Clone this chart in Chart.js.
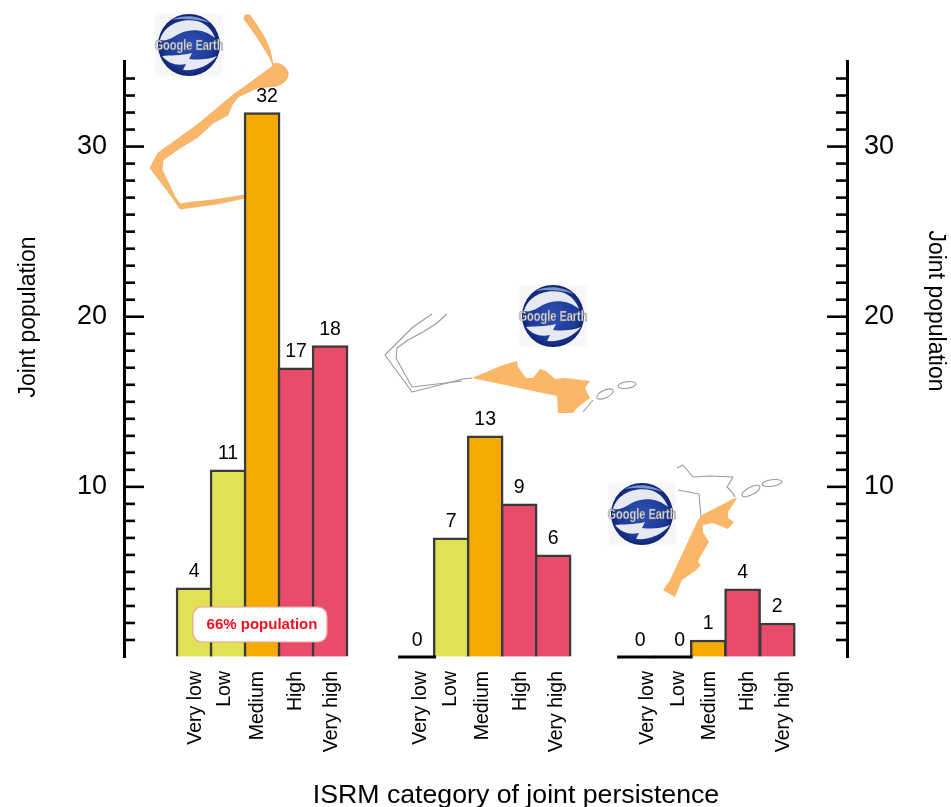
<!DOCTYPE html>
<html><head><meta charset="utf-8">
<script src="https://cdn.jsdelivr.net/npm/chart.js@4"></script>
<style>
html,body{margin:0;padding:0;background:#fff;overflow:hidden}
#wrap{position:relative;width:951px;height:807px}
canvas{position:absolute;left:0;top:0}
svg{position:absolute;left:0;top:0;pointer-events:none}
</style></head><body>
<div id="wrap">
<svg width="951" height="807" viewBox="0 0 951 807" font-family="Liberation Sans, Arial, sans-serif">
<defs>
<radialGradient id="ball" cx="50%" cy="50%" r="55%"><stop offset="0" stop-color="#2f52b4"/><stop offset=".7" stop-color="#1c3a98"/><stop offset="1" stop-color="#0a1a5c"/></radialGradient>
<filter id="soft" x="-10%" y="-10%" width="120%" height="120%"><feGaussianBlur stdDeviation=".55"/></filter>
<filter id="thin" x="-5%" y="-5%" width="110%" height="110%"><feGaussianBlur stdDeviation=".35"/></filter>
<filter id="edge" x="-10%" y="-10%" width="120%" height="120%"><feGaussianBlur stdDeviation="1.5"/></filter>
<g id="logo">
<rect x="-34" y="-31" width="68" height="62" rx="3" fill="#f6f6f6" filter="url(#edge)"/>
<g filter="url(#soft)">
<circle r="31" fill="url(#ball)"/>
<path d="M-29,-5 C-25,-20 -8,-27 8,-24 C17,-22 23,-15 26,-7 C17,-15 3,-17 -8,-12 C-15,-9 -21,-3 -29,-5Z" fill="#e6e9f2"/>
<path d="M-27,11 C-20,19 -12,21 -3,19 L-6,25 C7,26 20,21 28,11 C18,15 8,15 0,14 L3,8 C-8,11 -20,10 -27,11Z" fill="#e6e9f2"/>
<path d="M-18,-25 C-6,-31 10,-30 21,-22 C10,-26 -6,-27 -18,-25Z" fill="#7d94d2"/>
<text x="0" y="5" text-anchor="middle" font-size="14" font-weight="700" fill="#dedee2" stroke="#6f6f6f" stroke-width=".4" textLength="69" lengthAdjust="spacingAndGlyphs">Google Earth</text>
</g>
</g>
</defs>
<use href="#logo" x="189" y="45"/>
<use href="#logo" x="553" y="316"/>
<use href="#logo" x="642" y="514"/>
<g fill="#fbb668" stroke="#e3a860" stroke-width=".7" stroke-linejoin="round" filter="url(#thin)">
<path d="M245,15 250,15 258,27 265,38 270,50 273,64 C279,62 285,65 288,72 C289,78 285,83 277,86 L257,88 238,97 232,105 228,115 213,123 198,137 190,142 180,148 163,160 162,170 167,180 175,197 180,204 193,202 213,200 245,195 245,198 217,204 180,209 172,197 150,168 158,153 197,125 233,95 273,66 270,58 257,37 244,19Z"/>
<path d="M472,378 503,365 517,361 518,367 526,378 533,378 540,369 546,371 555,379 565,378 590,381 585,388 590,398 577,408 573,413 558,413 557,396Z" stroke="none"/>
<path d="M735,498 737,498 728,512 728,518 734,522 728,529 713,523 703,525 703,532 709,542 700,557 698,562 701,565 695,571 682,580 675,597 663,590 670,580 698,520 702,515Z" stroke="none"/>
</g>
<g fill="none" stroke="#9a9a9a" stroke-width="1.1" stroke-linejoin="round" filter="url(#thin)">
<path d="M432,314 413,327 385,355 412,392 463,379 472,378"/>
<path d="M447,314 437,323 423,332 408,340 397,348 396,358 412,387 462,381"/>
<ellipse cx="605" cy="394" rx="9" ry="3.8" transform="rotate(-25 605 394)"/>
<ellipse cx="627" cy="385" rx="9" ry="3.3" transform="rotate(-8 627 385)"/>
<path d="M593,400 583,412"/>
<path d="M677,468 683,465 693,477 710,476 733,477 727,487 732,492 735,497"/>
<path d="M678,490 699,494 701,517"/>
<ellipse cx="751" cy="491" rx="10" ry="3.8" transform="rotate(-28 751 491)"/>
<ellipse cx="772" cy="483" rx="10" ry="3.3" transform="rotate(-8 772 483)"/>
</g>
</svg>
<canvas id="c" width="951" height="807"></canvas>
<svg width="951" height="807" viewBox="0 0 951 807" font-family="Liberation Sans, Arial, sans-serif">
<rect x="193" y="607" width="134" height="35" rx="9" fill="#fff" stroke="#f3a097" stroke-width="1.2"/>
<text x="262" y="629" text-anchor="middle" font-size="15" font-weight="700" fill="#f0101e">66% population</text>
</svg>
</div>
<script>
const categories = ["Very low","Low","Medium","High","Very high"];
const group1Values = [4.06, 11, 32, 17, 18.3];
const group2Values = [0, 7, 13, 9, 6];
const group3Values = [0, 0, 1, 4, 2];
const group1Labels = ["4","11","32","17","18"];
const group2Labels = ["0","7","13","9","6"];
const group3Labels = ["0","0","1","4","2"];
const barSlots = [1,2,3,4,5, 7.56,8.56,9.56,10.56,11.56, 14,15.1,16.12,17.13,18.15];
const labelSlots = [1.05,1.9,2.87,3.99,5.05, 7.66,8.55,9.49,10.61,11.67, 14.34,15.26,16.17,17.28,18.34];
const yTickLabels = [10,20,30];
const xTitle = "ISRM category of joint persistence";
const yTitle = "Joint population";

const YELLOW="#e1e155", ORANGE="#f4aa00", PINK="#e94b6b";
const barColors=[YELLOW,YELLOW,ORANGE,PINK,PINK];
const values=[...group1Values,...group2Values,...group3Values];
const valueLabels=[...group1Labels,...group2Labels,...group3Labels];
const FONT="'Liberation Sans', Arial, sans-serif";
const labelNudge={2:5,10:4,11:6};

const decor={
  id:"decor",
  afterDatasetsDraw(chart){
    const ctx=chart.ctx, a=chart.chartArea;
    ctx.save();
    ctx.strokeStyle="#000"; ctx.lineWidth=2.6;
    [["y",1],["y2",-1]].forEach(([id,dir])=>{
      const s=chart.scales[id], x0=id==="y"?a.left:a.right;
      s.ticks.forEach(t=>{
        if(t.value<=0||t.value>=35)return;
        const y=s.getPixelForValue(t.value), len=t.value%10===0?20:11;
        ctx.beginPath();ctx.moveTo(x0,y);ctx.lineTo(x0+dir*len,y);ctx.stroke();
      });
    });
    const meta=chart.getDatasetMeta(0);
    ctx.fillStyle="#000";ctx.textAlign="center";ctx.textBaseline="alphabetic";
    ctx.font="19.5px "+FONT;
    meta.data.forEach((el,i)=>{
      if(values[i]===0){
        ctx.lineWidth=3;ctx.strokeStyle="#000";
        ctx.beginPath();ctx.moveTo(el.x-el.width/2-1,a.bottom);ctx.lineTo(el.x+el.width/2+1,a.bottom);ctx.stroke();
      }
      ctx.fillText(valueLabels[i],el.x+(labelNudge[i]||0),el.y-11);
    });
    ctx.font="26.7px "+FONT;
    ctx.fillText(xTitle,516,803);
    ctx.font="23px "+FONT;ctx.textBaseline="middle";
    ctx.save();ctx.translate(29,317);ctx.rotate(-Math.PI/2);ctx.fillText(yTitle,0,0);ctx.restore();
    ctx.save();ctx.translate(935,311);ctx.rotate(Math.PI/2);ctx.fillText(yTitle,0,0);ctx.restore();
    ctx.restore();
  }
};

const yAxis=(position,width)=>({
  type:"linear",position,min:0,max:35,
  afterFit(s){s.width=width;},
  border:{display:true,color:"#000",width:3},
  grid:{drawOnChartArea:false,drawTicks:false},
  ticks:{stepSize:1,autoSkip:false,padding:17,color:"#000",
    font:{family:FONT,size:27},
    callback:v=>yTickLabels.includes(v)?String(v):""}
});

new Chart(document.getElementById("c"),{
  type:"bar",
  data:{datasets:[{
    data:values.map((v,i)=>({x:barSlots[i],y:v})),
    backgroundColor:values.map((v,i)=>barColors[i%5]),
    borderColor:"#3a3a3a",borderWidth:values.map(v=>v===0?0:2.5),
    barThickness:36,grouped:false
  }]},
  options:{
    responsive:false,animation:false,
    layout:{padding:{top:61.5,left:0,right:0,bottom:0},autoPadding:false},
    plugins:{legend:{display:false},tooltip:{enabled:false},title:{display:false}},
    scales:{
      x:{type:"linear",offset:false,min:-1.06,max:20.2,
        afterFit(s){s.height=150;},
        afterBuildTicks(s){s.ticks=labelSlots.map(v=>({value:v}));},
        border:{display:false},grid:{display:false,drawTicks:false},
        ticks:{autoSkip:false,minRotation:90,maxRotation:90,padding:14,color:"#000",
          font:{family:FONT,size:19.5},
          callback:(v,i)=>categories[i%5]}
      },
      y:yAxis("left",124),
      y2:yAxis("right",104)
    }
  },
  plugins:[decor]
});
</script>
</body></html>
